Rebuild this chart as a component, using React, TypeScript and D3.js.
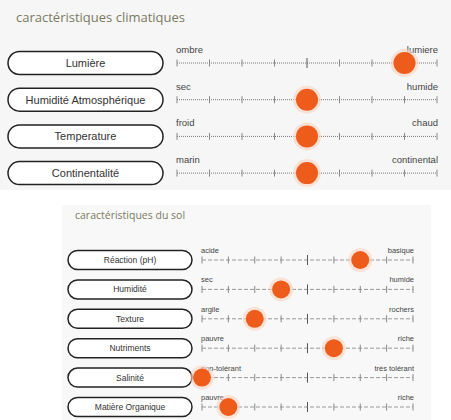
import { useEffect, useRef } from 'react'
import * as d3 from 'd3'

const climateCategories = ['Lumière', 'Humidité Atmosphérique', 'Temperature', 'Continentalité']
const climateLow = ['ombre', 'sec', 'froid', 'marin']
const climateHigh = ['lumiere', 'humide', 'chaud', 'continental']
const climateValues = [7, 4, 4, 4]

const soilCategories = ['Réaction (pH)', 'Humidité', 'Texture', 'Nutriments', 'Salinité', 'Matière Organique']
const soilLow = ['acide', 'sec', 'argile', 'pauvre', 'non-tolérant', 'pauvre']
const soilHigh = ['basique', 'humide', 'rochers', 'riche', 'très tolérant', 'riche']
const soilValues = [6, 3, 2, 5, 0, 1]

const scaleSteps = d3.range(0, 9)

const App = () => {
  const svgRef = useRef<SVGSVGElement | null>(null)
  const width = 451
  const height = 420

  useEffect(() => {
    if (!svgRef.current) return
    const svg = d3.select(svgRef.current)
    svg.selectAll('*').remove()

    const drawBlock = (opts: any) => {
      const { cats, low, high, values, pill, xRange, yFirst, yStep, fs, pillFs, r, labelOff, dotted } = opts
      const x = d3.scaleLinear().domain([0, 8]).range(xRange)
      const y = d3.scaleLinear().domain([0, 1]).range([yFirst, yFirst + yStep])

      const rows = svg.append('g').selectAll('g')
        .data(cats).enter().append('g')

      rows.append('rect')
        .attr('x', pill[0])
        .attr('y', (d: any, i: number) => y(i) - pill[2] / 2)
        .attr('width', pill[1])
        .attr('height', pill[2])
        .attr('rx', pill[2] / 2)
        .attr('fill', '#fff')
        .attr('stroke', '#222')
        .attr('stroke-width', 1.5)

      rows.append('text')
        .text((d: any) => d)
        .attr('x', pill[0] + pill[1] / 2)
        .attr('y', (d: any, i: number) => y(i))
        .attr('dy', '0.35em')
        .attr('text-anchor', 'middle')
        .style('font-family', 'Liberation Sans, Arial, sans-serif')
        .style('font-size', pillFs + 'px')
        .attr('fill', '#333')

      rows.append('line')
        .attr('x1', x(0)).attr('x2', x(8))
        .attr('y1', (d: any, i: number) => y(i))
        .attr('y2', (d: any, i: number) => y(i))
        .attr('stroke', dotted ? '#777' : '#999')
        .attr('stroke-width', 1)
        .attr('stroke-dasharray', dotted ? '1,1' : '4,2')

      // ticks, middle one taller
      rows.each(function (d: any, i: number) {
        d3.select(this).selectAll('line.tick')
          .data(scaleSteps).enter().append('line')
          .attr('class', 'tick')
          .attr('x1', (s: number) => x(s)).attr('x2', (s: number) => x(s))
          .attr('y1', (s: number) => y(i) - (s === 4 ? 5 : 3.5))
          .attr('y2', (s: number) => y(i) + (s === 4 ? 5 : 3.5))
          .attr('stroke', s => (s === 4 ? '#555' : '#888'))
          .attr('stroke-width', 1)
      })

      rows.append('text')
        .text((d: any, i: number) => low[i])
        .attr('x', x(0) - 1)
        .attr('y', (d: any, i: number) => y(i) - labelOff)
        .style('font-family', 'Liberation Sans, Arial, sans-serif')
        .style('font-size', fs + 'px')
        .attr('fill', '#444')

      rows.append('text')
        .text((d: any, i: number) => high[i])
        .attr('x', x(8) + 1)
        .attr('y', (d: any, i: number) => y(i) - labelOff)
        .attr('text-anchor', 'end')
        .style('font-family', 'Liberation Sans, Arial, sans-serif')
        .style('font-size', fs + 'px')
        .attr('fill', '#444')

      rows.append('circle')
        .attr('cx', (d: any, i: number) => x(values[i]))
        .attr('cy', (d: any, i: number) => y(i))
        .attr('r', r + 3)
        .attr('fill', '#fbd6c0')
        .attr('opacity', 0.6)

      rows.append('circle')
        .attr('cx', (d: any, i: number) => x(values[i]))
        .attr('cy', (d: any, i: number) => y(i))
        .attr('r', r)
        .attr('fill', '#ee5c1c')
    }

    // panels
    svg.append('rect').attr('x', 0).attr('y', 0).attr('width', width).attr('height', 190).attr('fill', '#f6f6f6')
    svg.append('rect').attr('x', 62).attr('y', 205).attr('width', 369).attr('height', 215).attr('fill', '#f8f8f8')

    svg.append('text')
      .text('caractéristiques climatiques')
      .attr('x', 16).attr('y', 22)
      .style('font-family', 'Open Sans, sans-serif')
      .style('font-size', '13px')
      .attr('fill', '#7a7a62')

    svg.append('text')
      .text('caractéristiques du sol')
      .attr('x', 75).attr('y', 219)
      .style('font-family', 'Open Sans, sans-serif')
      .style('font-size', '10.5px')
      .attr('fill', '#7a7a62')

    drawBlock({
      cats: climateCategories, low: climateLow, high: climateHigh, values: climateValues,
      pill: [8, 155, 23], xRange: [177, 437], yFirst: 63, yStep: 36.7,
      fs: 9.5, pillFs: 11, r: 11, labelOff: 10, dotted: true
    })

    drawBlock({
      cats: soilCategories, low: soilLow, high: soilHigh, values: soilValues,
      pill: [68, 124, 19], xRange: [202, 413], yFirst: 260, yStep: 29.4,
      fs: 7.5, pillFs: 8.5, r: 9, labelOff: 7, dotted: false
    })
  }, [])

  return (
    <div style={{ position: 'absolute', left: 0, top: 0 }}>
      <svg width={width} height={height} ref={svgRef} style={{ display: 'block' }} />
    </div>
  )
}

export default App
